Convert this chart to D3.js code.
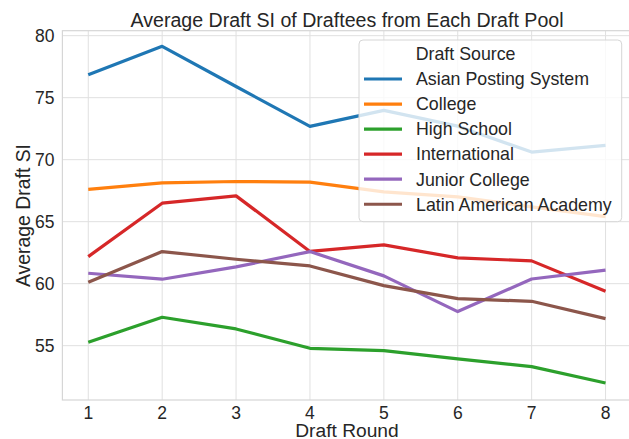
<!DOCTYPE html>
<html><head><meta charset="utf-8">
<script src="https://cdn.jsdelivr.net/npm/d3@7"></script>
<style>body{margin:0;background:#fff}svg{display:block}text{font-family:"Liberation Sans",Arial,sans-serif;fill:#262626}</style>
</head><body><svg id="c" width="629" height="439"></svg>
<script>
const rounds = [1,2,3,4,5,6,7,8];
const seriesNames = ["Asian Posting System","College","High School","International","Junior College","Latin American Academy"];
const asianPosting = [76.85,79.14,75.9,72.68,73.97,72.7,70.61,71.15];
const college = [67.6,68.13,68.24,68.19,67.4,67.0,66.2,65.41];
const highSchool = [55.27,57.29,56.35,54.79,54.6,53.93,53.31,51.99];
const international = [62.18,66.49,67.08,62.6,63.13,62.08,61.84,59.39];
const juniorCollege = [60.84,60.36,61.35,62.59,60.63,57.75,60.38,61.09];
const latinAmerican = [60.12,62.59,61.97,61.43,59.84,58.79,58.58,57.18];
const yTicks = [55,60,65,70,75,80];
const colors = ["#1f77b4","#ff7f0e","#2ca02c","#d62728","#9467bd","#8c564b"];
const allSeries = [asianPosting,college,highSchool,international,juniorCollege,latinAmerican];

const svg = d3.select("#c");
const x = d3.scaleLinear().domain([0.65,8.35]).range([62.4,631.4]);
const y = d3.scaleLinear().domain([50.62,80.40]).range([400,30.7]);
const grid = "#e0e0e0";

// grid
svg.append("g").selectAll("line").data(rounds).join("line")
  .attr("x1",d=>x(d)).attr("x2",d=>x(d)).attr("y1",y.range()[0]).attr("y2",y.range()[1])
  .attr("stroke",grid).attr("stroke-width",1);
svg.append("g").selectAll("line").data(yTicks).join("line")
  .attr("x1",x.range()[0]).attr("x2",x.range()[1]).attr("y1",d=>y(d)).attr("y2",d=>y(d))
  .attr("stroke",grid).attr("stroke-width",1);
// spines
svg.append("rect").attr("x",x.range()[0]).attr("y",y.range()[1])
  .attr("width",x.range()[1]-x.range()[0]).attr("height",y.range()[0]-y.range()[1])
  .attr("fill","none").attr("stroke","#d6d6d6").attr("stroke-width",1.2);

// tick labels
svg.append("g").selectAll("text").data(rounds).join("text")
  .attr("x",d=>x(d)).attr("y",418.5).attr("text-anchor","middle").attr("font-size",17.5).text(d=>d);
svg.append("g").selectAll("text").data(yTicks).join("text")
  .attr("x",54.5).attr("y",d=>y(d)+6).attr("text-anchor","end").attr("font-size",17.5).text(d=>d);

// lines
const line = d3.line().x((d,i)=>x(rounds[i])).y(d=>y(d));
svg.append("g").selectAll("path").data(allSeries).join("path")
  .attr("d",d=>line(d)).attr("fill","none").attr("stroke",(d,i)=>colors[i])
  .attr("stroke-width",3.2).attr("stroke-linejoin","round").attr("stroke-linecap","butt");

// title & labels
svg.append("text").attr("x",347).attr("y",26.5).attr("text-anchor","middle").attr("font-size",19.6)
  .text("Average Draft SI of Draftees from Each Draft Pool");
svg.append("text").attr("x",347).attr("y",437).attr("text-anchor","middle").attr("font-size",19.2)
  .text("Draft Round");
svg.append("text").attr("transform","translate(30,215.5) rotate(-90)").attr("text-anchor","middle").attr("font-size",19.4)
  .text("Average Draft SI");

// legend
const lg = svg.append("g");
lg.append("rect").attr("x",359).attr("y",40).attr("width",262.7).attr("height",181.7).attr("rx",4)
  .attr("fill","#fff").attr("fill-opacity",0.8).attr("stroke","#d6d6d6").attr("stroke-width",1);
lg.append("text").attr("x",415.7).attr("y",59.5).attr("font-size",17.8).text("Draft Source");
const items = lg.selectAll("g.it").data(seriesNames).join("g").attr("class","it")
  .attr("transform",(d,i)=>`translate(0,${79+i*25.05})`);
items.append("line").attr("x1",364).attr("x2",402).attr("y1",0).attr("y2",0)
  .attr("stroke",(d,i)=>colors[i]).attr("stroke-width",3.2);
items.append("text").attr("x",416).attr("y",6.3).attr("font-size",17.8).text(d=>d);
</script></body></html>
